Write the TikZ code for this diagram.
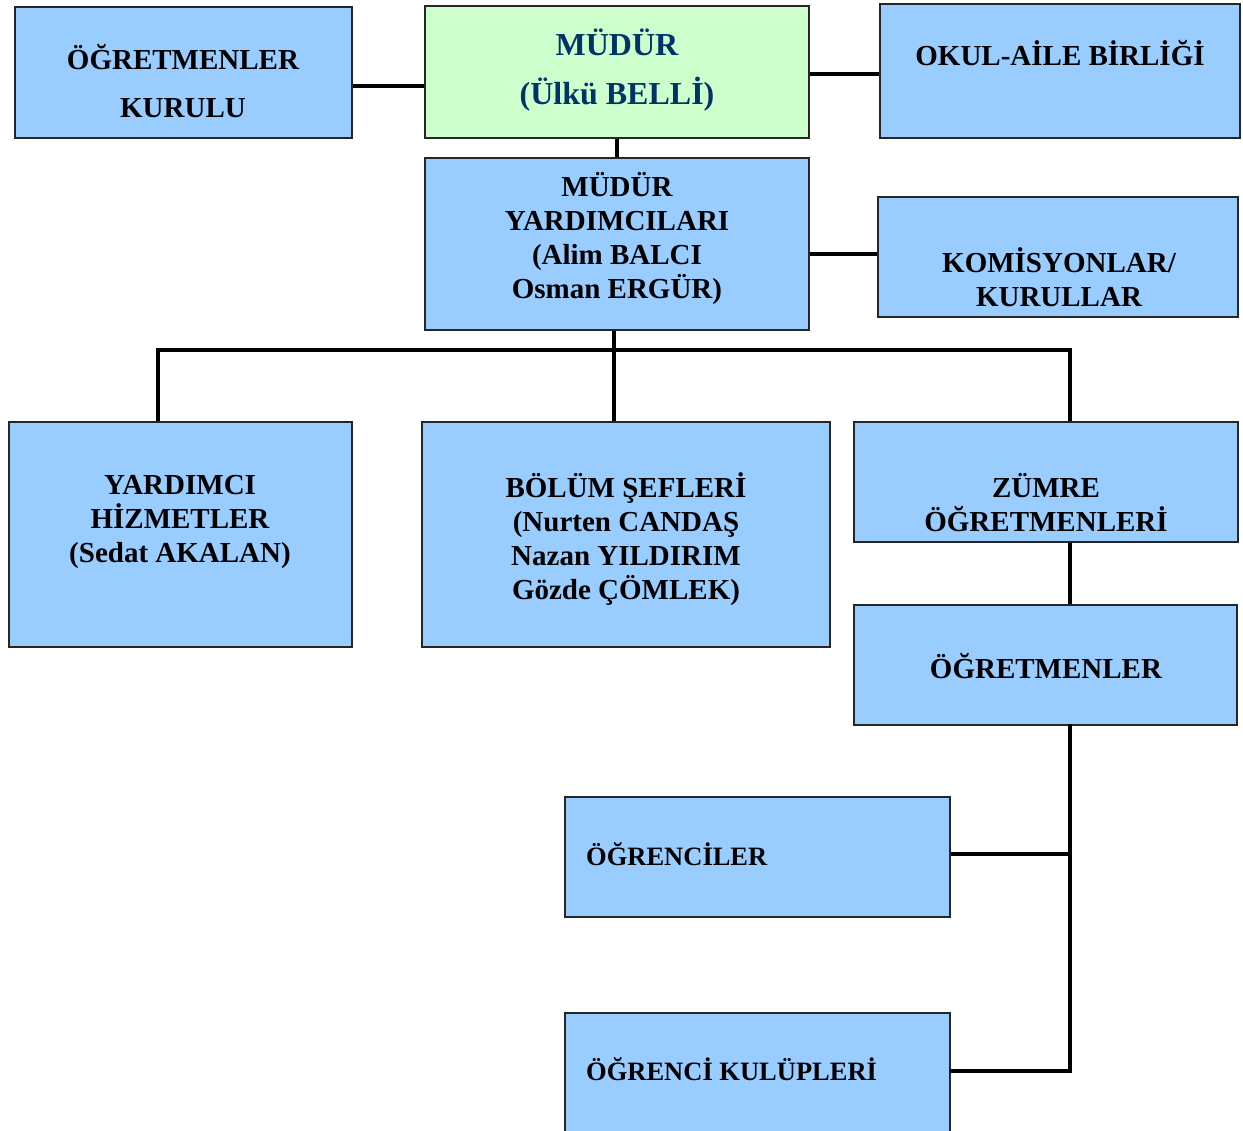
\documentclass[tikz,border=0pt]{standalone}
\usepackage{fontspec}
\setmainfont{Liberation Serif}
\usetikzlibrary{positioning, calc}
\definecolor{boxblue}{HTML}{99CCFF}
\definecolor{boxgreen}{HTML}{CCFFCC}
\definecolor{navytext}{HTML}{003366}
\begin{document}
\begin{tikzpicture}[
    x=1pt, y=-1pt,
    box/.style={draw=black!85, line width=1.8pt, fill=boxblue, rectangle, inner sep=0pt},
    greenbox/.style={box, fill=boxgreen},
    txt/.style={font=\bfseries\fontsize{29}{34}\selectfont, align=center, inner sep=0pt},
    widetxt/.style={font=\bfseries\fontsize{29}{48}\selectfont, align=center, inner sep=0pt},
    headtxt/.style={font=\bfseries\fontsize{32}{49}\selectfont, align=center, inner sep=0pt, text=navytext},
    lefttxt/.style={font=\bfseries\fontsize{26.5}{32}\selectfont, inner sep=0pt, anchor=west},
    conn/.style={line width=4pt, black}
]
\clip (0,0) rectangle (1243,1131);
\fill[white] (0,0) rectangle (1243,1131);

% Top row
\node[box, minimum width=337pt, minimum height=131pt] (ogk) at (183.5,72.5) {};
\node[widetxt] (ogk-t) at (183,81) {ÖĞRETMENLER\\KURULU};
\node[greenbox, minimum width=384pt, minimum height=132pt] (mudur) at (617,72) {};
\node[headtxt] (mudur-t) at (617,70.5) {MÜDÜR\\(Ülkü BELLİ)};
\node[box, minimum width=360pt, minimum height=134pt] (oab) at (1060,71) {};
\node[txt] (oab-t) at (1060,53) {OKUL-AİLE BİRLİĞİ};

% Second row
\node[box, minimum width=384pt, minimum height=172pt] (my) at (617,244) {};
\node[txt] (my-t) at (617,238.5) {MÜDÜR\\YARDIMCILARI\\(Alim BALCI\\Osman ERGÜR)};
\node[box, minimum width=360pt, minimum height=120pt] (kom) at (1058,257) {};
\node[txt] (kom-t) at (1059,277) {KOMİSYONLAR/\\KURULLAR};

% Third row
\node[box, minimum width=343pt, minimum height=225pt] (yh) at (180.5,534.5) {};
\node[txt] (yh-t) at (180,522) {YARDIMCI\\HİZMETLER\\(Sedat AKALAN)};
\node[box, minimum width=408pt, minimum height=225pt] (bs) at (626,534.5) {};
\node[txt] (bs-t) at (626,539) {BÖLÜM ŞEFLERİ\\(Nurten CANDAŞ\\Nazan YILDIRIM\\Gözde ÇÖMLEK)};
\node[box, minimum width=384pt, minimum height=120pt] (zo) at (1046,482) {};
\node[txt] (zo-t) at (1046,503) {ZÜMRE\\ÖĞRETMENLERİ};

% Lower part
\node[box, minimum width=383pt, minimum height=120pt] (ogr) at (1045.5,665) {};
\node[txt] (ogr-t) at (1046,666) {ÖĞRETMENLER};
\node[box, minimum width=385pt, minimum height=120pt] (ogc) at (757.5,857) {};
\node[lefttxt] (ogc-t) at (586,854.5) {ÖĞRENCİLER};
\node[box, minimum width=385pt, minimum height=137pt] (okl) at (757.5,1081.5) {};
\node[lefttxt] (okl-t) at (586,1069.5) {ÖĞRENCİ KULÜPLERİ};

% Connectors
\coordinate (busL) at (158,350);
\coordinate (busR) at (1070,350);
\coordinate (kulup) at (1070,1071);
\draw[conn] ([yshift=-13.5pt]ogk.east) -- ([yshift=-13.5pt]ogk.east -| mudur.west);
\draw[conn] ([yshift=-2pt]mudur.east) -- ([yshift=-2pt]mudur.east -| oab.west);
\draw[conn] (mudur.south) -- (my.north);
\draw[conn] ([yshift=-10pt]my.east) -- ([yshift=-10pt]my.east -| kom.west);
\draw[conn, line cap=rect] (busL) -- (busR);
\draw[conn] (busL) -- (busL |- yh.north);
\draw[conn] (busR) -- (busR |- zo.north);
\draw[conn] ([xshift=-3pt]my.south) -- ([xshift=-3pt]my.south |- bs.north);
\draw[conn] (busR |- zo.south) -- (busR |- ogr.north);
\draw[conn, line cap=rect] (busR |- ogr.south) -- (kulup);
\draw[conn] ([yshift=3pt]ogc.east) -- ([yshift=3pt]busR |- ogc.east);
\draw[conn, line cap=rect] (okl.east |- kulup) -- (kulup);
\end{tikzpicture}
\end{document}
